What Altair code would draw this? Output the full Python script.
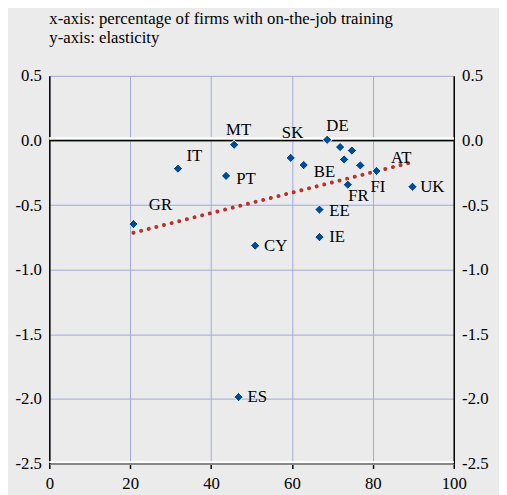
import altair as alt
import pandas as pd

# data points (percentage of firms with on-the-job training, elasticity)
pt_x = [20.8, 31.8, 43.7, 45.7, 50.9, 46.8, 59.7, 62.9, 68.7, 71.9, 74.8, 72.9, 76.9, 73.8, 80.9, 89.8, 66.8, 66.8]
pt_y = [-0.647, -0.218, -0.274, -0.033, -0.814, -1.986, -0.135, -0.19, 0.005, -0.051, -0.078, -0.147, -0.193, -0.342, -0.236, -0.358, -0.535, -0.748]

# country labels and where they sit (data units)
lab_text = ["GR", "IT", "MT", "PT", "CY", "ES", "SK", "DE", "BE", "FR", "FI", "AT", "UK", "EE", "IE"]
lab_x = [24.6, 33.9, 43.7, 46.2, 53.1, 49.0, 57.5, 68.5, 65.4, 73.9, 79.4, 84.5, 91.7, 69.2, 69.2]
lab_y = [-0.502, -0.122, 0.084, -0.297, -0.814, -1.986, 0.056, 0.114, -0.243, -0.431, -0.358, -0.134, -0.363, -0.548, -0.751]

# trend line end points
trend_x = [20.8, 89.1]
trend_y = [-0.714, -0.173]

y_ticks = [0.5, 0.0, -0.5, -1.0, -1.5, -2.0, -2.5]
x_ticks = [0, 20, 40, 60, 80, 100]

FONT = "Liberation Serif"
BG = "#ebebeb"
GRID = "#9ea8d8"

pts = pd.DataFrame({"x": pt_x, "y": pt_y})
labs = pd.DataFrame({"x": lab_x, "y": lab_y, "t": lab_text})
trend = pd.DataFrame({"x": trend_x, "y": trend_y})
zero = pd.DataFrame({"y": [0.0]})
bottom = pd.DataFrame({"y": [-2.5]})

xs = alt.Scale(domain=[0, 100], nice=False, zero=False)
ys = alt.Scale(domain=[-2.5, 0.5], nice=False, zero=False)
label_expr = "replace(format(datum.value, '.1f'), '\u2212', '-')"

X = alt.X("x:Q", scale=xs, title=None, axis=alt.Axis(values=x_ticks))

base_left = alt.Chart(pts).mark_point(opacity=0).encode(
    x=X,
    y=alt.Y("y:Q", scale=ys, title=None,
            axis=alt.Axis(values=y_ticks, labelExpr=label_expr, grid=True, labelPadding=8)),
)
base_right = alt.Chart(pts).mark_point(opacity=0).encode(
    x=X,
    y=alt.Y("y:Q", scale=ys, title=None,
            axis=alt.Axis(values=y_ticks, labelExpr=label_expr, orient="right", grid=False,
                          labelPadding=8)),
)

Y_none = alt.Y("y:Q", scale=ys, axis=None)

zero_white = alt.Chart(zero).mark_rule(color="white", strokeWidth=3, yOffset=-2).encode(y=Y_none)
zero_black = alt.Chart(zero).mark_rule(color="black", strokeWidth=1.5).encode(y=Y_none)
bottom_white = alt.Chart(bottom).mark_rule(color="white", strokeWidth=2, yOffset=-1.5).encode(y=Y_none)

trend_line = alt.Chart(trend).mark_line(
    color="#b5332a", strokeWidth=4, strokeCap="round", strokeDash=[0.1, 7.9]
).encode(x=X, y=Y_none)

points = alt.Chart(pts).mark_point(
    shape="diamond", filled=True, size=90, color="#004b98", stroke="white",
    strokeWidth=1, opacity=1
).encode(x=X, y=Y_none)

labels = alt.Chart(labs).mark_text(
    align="left", baseline="middle", font=FONT, fontSize=17, color="black"
).encode(x=X, y=Y_none, text="t:N")

chart = alt.layer(
    base_left, base_right, zero_white, zero_black, bottom_white, trend_line, points, labels
).resolve_axis(y="independent").properties(
    width=411,
    height=394,
    autosize=alt.AutoSizeParams(type="none"),
    padding={"left": 42, "top": 65, "right": 46, "bottom": 28},
    background=BG,
    title=alt.Title(
        ["x-axis: percentage of firms with on-the-job training", "y-axis: elasticity"],
        anchor="start", frame="group", fontWeight="normal",
        lineHeight=20, offset=20, dx=0,
    ),
).configure(
    font=FONT
).configure_title(
    font=FONT, fontSize=17, color="black", fontWeight="normal"
).configure_axis(
    labelFont=FONT, labelFontSize=17, labelColor="black", labelFlush=False,
    gridColor=GRID, gridWidth=1, gridOpacity=1,
).configure_axisX(
    grid=True, domainColor="#888888", domainWidth=2, tickColor="black", tickSize=5,
    tickWidth=1.5, labelPadding=7,
).configure_axisY(
    domainColor="black", domainWidth=1.5, ticks=False,
).configure_view(stroke=None, fill=BG)

chart.save("out.html", embed_options={"renderer": "svg", "actions": False})
